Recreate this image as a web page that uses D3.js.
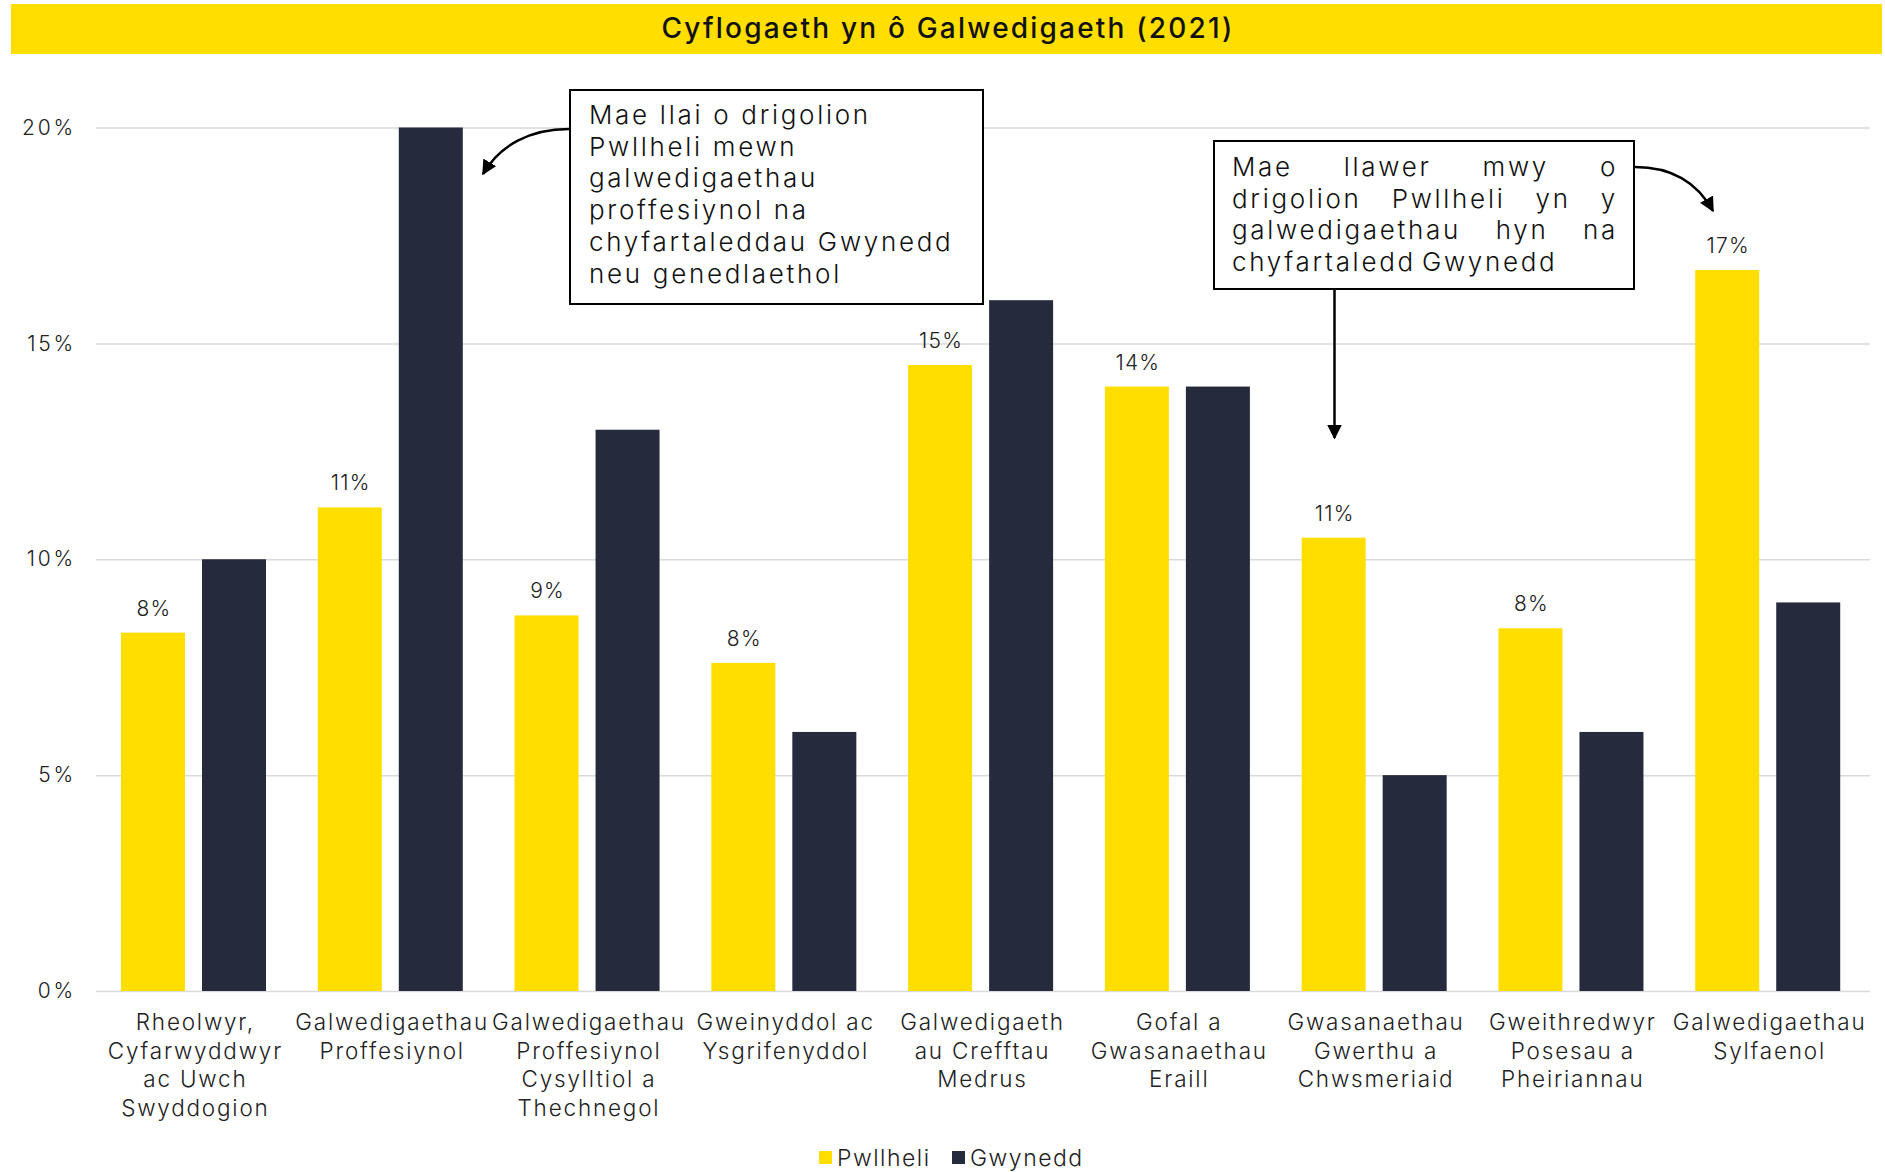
<!DOCTYPE html>
<html>
<head>
<meta charset="utf-8">
<script src="https://cdn.jsdelivr.net/npm/d3@7"></script>
<style>
  html, body { margin: 0; padding: 0; background: #fff; }
  svg { display: block; font-family: Inter, "Noto Sans", sans-serif; }
</style>
</head>
<body>
<svg id="chart" width="1885" height="1172"></svg>
<script>
// ---------------- DATA ----------------
const categories = [
  "Rheolwyr, Cyfarwyddwyr ac Uwch Swyddogion",
  "Galwedigaethau Proffesiynol",
  "Galwedigaethau Proffesiynol Cysylltiol a Thechnegol",
  "Gweinyddol ac Ysgrifenyddol",
  "Galwedigaethau Crefftau Medrus",
  "Gofal a Gwasanaethau Eraill",
  "Gwasanaethau Gwerthu a Chwsmeriaid",
  "Gweithredwyr Posesau a Pheiriannau",
  "Galwedigaethau Sylfaenol"
];
const categoryLines = [
  ["Rheolwyr,", "Cyfarwyddwyr", "ac Uwch", "Swyddogion"],
  ["Galwedigaethau", "Proffesiynol"],
  ["Galwedigaethau", "Proffesiynol", "Cysylltiol a", "Thechnegol"],
  ["Gweinyddol ac", "Ysgrifenyddol"],
  ["Galwedigaeth", "au Crefftau", "Medrus"],
  ["Gofal a", "Gwasanaethau", "Eraill"],
  ["Gwasanaethau", "Gwerthu a", "Chwsmeriaid"],
  ["Gweithredwyr", "Posesau a", "Pheiriannau"],
  ["Galwedigaethau", "Sylfaenol"]
];
const seriesNames = ["Pwllheli", "Gwynedd"];
const pwllheli = [8.3, 11.2, 8.7, 7.6, 14.5, 14.0, 10.5, 8.4, 16.7];
const gwynedd  = [10, 20, 13, 6, 16, 14, 5, 6, 9];
const pwllheliLabels = ["8%", "11%", "9%", "8%", "15%", "14%", "11%", "8%", "17%"];
const yTicks = [0, 5, 10, 15, 20];
const yTickLabels = ["0%", "5%", "10%", "15%", "20%"];
const title = "Cyflogaeth yn ô Galwedigaeth (2021)";
const note1Lines = ["Mae llai o drigolion", "Pwllheli mewn", "galwedigaethau", "proffesiynol na", "chyfartaleddau Gwynedd", "neu genedlaethol"];
const note2Lines = ["Mae llawer mwy o", "drigolion Pwllheli yn y", "galwedigaethau hyn na", "chyfartaledd Gwynedd"];

// ---------------- STYLE ----------------
const colors = { Pwllheli: "#FFDE00", Gwynedd: "#262A3D" };
const svg = d3.select("#chart");

// title bar
svg.append("rect").attr("x", 11).attr("y", 4).attr("width", 1871).attr("height", 50).attr("fill", "#FFDE00");
svg.append("text").attr("x", 948).attr("y", 38).attr("text-anchor", "middle")
  .attr("font-size", 28).attr("font-weight", 500).attr("letter-spacing", 2.2)
  .attr("fill", "#111").text(title);

// scales
const y = d3.scaleLinear().domain([0, 20]).range([991, 127.5]);
const x0 = d3.scaleBand().domain(categories).range([96, 1867]).padding(0);
const x1 = d3.scaleBand().domain(seriesNames).range([25, 170]).paddingInner(0.21).paddingOuter(0);

// gridlines
const grid = svg.append("g").attr("transform", "translate(96,0)")
  .call(d3.axisLeft(y).tickValues(yTicks).tickSize(-1774).tickFormat(""));
grid.select(".domain").remove();
grid.selectAll("line").attr("stroke", "#D9D9D9").attr("stroke-width", 1.5);

// y labels
const yAxis = svg.append("g").attr("transform", "translate(76,0)")
  .call(d3.axisLeft(y).tickValues(yTicks).tickSize(0).tickPadding(0)
    .tickFormat((d, i) => yTickLabels[i]));
yAxis.select(".domain").remove();
yAxis.selectAll("text").attr("font-size", 21).attr("fill", "#222")
  .attr("font-family", "Inter, sans-serif").attr("font-weight", 300).attr("letter-spacing", 2.8);

// bars
const groups = svg.append("g").selectAll("g").data(categories).join("g")
  .attr("transform", d => `translate(${x0(d)},0)`);
groups.append("rect")
  .attr("x", x1("Pwllheli")).attr("width", x1.bandwidth())
  .attr("y", (d, i) => y(pwllheli[i])).attr("height", (d, i) => y(0) - y(pwllheli[i]))
  .attr("fill", colors.Pwllheli);
groups.append("rect")
  .attr("x", x1("Gwynedd")).attr("width", x1.bandwidth())
  .attr("y", (d, i) => y(gwynedd[i])).attr("height", (d, i) => y(0) - y(gwynedd[i]))
  .attr("fill", colors.Gwynedd);
groups.append("text")
  .attr("x", x1("Pwllheli") + x1.bandwidth() / 2 + 1)
  .attr("y", (d, i) => y(pwllheli[i]) - 17)
  .attr("text-anchor", "middle").attr("font-size", 21).attr("font-weight", 300)
  .attr("letter-spacing", 1.2).attr("fill", "#222")
  .text((d, i) => pwllheliLabels[i]);

// category labels
groups.append("text")
  .attr("text-anchor", "middle").attr("font-size", 22.5).attr("font-weight", 300)
  .attr("letter-spacing", 1.8).attr("fill", "#222")
  .each(function (d, i) {
    const t = d3.select(this);
    categoryLines[i].forEach((line, k) => {
      t.append("tspan").attr("x", x0.bandwidth() / 2 + 1).attr("y", 1030 + k * 28.6).text(line);
    });
  });

// legend
const legend = svg.append("g");
[["Pwllheli", 819, 837], ["Gwynedd", 952, 970]].forEach(([name, sx, tx]) => {
  legend.append("rect").attr("x", sx).attr("y", 1151).attr("width", 13).attr("height", 13).attr("fill", colors[name]);
  legend.append("text").attr("x", tx).attr("y", 1166).attr("font-size", 23).attr("font-weight", 300)
    .attr("letter-spacing", 1.5).attr("fill", "#222").text(name);
});

// arrow marker
const defs = svg.append("defs");
defs.append("marker").attr("id", "arrow").attr("viewBox", "0 0 10 10")
  .attr("refX", 9).attr("refY", 5).attr("markerWidth", 6).attr("markerHeight", 6)
  .attr("markerUnits", "strokeWidth").attr("orient", "auto")
  .append("path").attr("d", "M0,0 L10,5 L0,10 z").attr("fill", "#000");

// note 1
svg.append("rect").attr("x", 570).attr("y", 90).attr("width", 413).attr("height", 214)
  .attr("fill", "#fff").attr("stroke", "#000").attr("stroke-width", 2);
const n1 = svg.append("text").attr("font-size", 26).attr("font-weight", 300)
  .attr("letter-spacing", 2.7).attr("fill", "#111");
note1Lines.forEach((l, k) => n1.append("tspan").attr("x", 589).attr("y", 124 + k * 31.7).text(l));
svg.append("path").attr("d", "M569,129 C530,129 500,145 483,174")
  .attr("fill", "none").attr("stroke", "#000").attr("stroke-width", 2.5).attr("marker-end", "url(#arrow)");

// note 2 (justified)
svg.append("rect").attr("x", 1214).attr("y", 141).attr("width", 420).attr("height", 148)
  .attr("fill", "#fff").attr("stroke", "#000").attr("stroke-width", 2);
const n2 = svg.append("g").attr("font-size", 26).attr("font-weight", 300)
  .attr("letter-spacing", 2.7).attr("fill", "#111");
note2Lines.forEach((l, k) => {
  const yy = 176 + k * 31.7;
  const words = l.split(" ");
  const last = k === note2Lines.length - 1;
  const nodes = words.map(w => n2.append("text").attr("y", yy).text(w));
  const widths = nodes.map(n => n.node().getComputedTextLength());
  const total = d3.sum(widths);
  const left = 1232, right = 1618;
  const gap = last ? 6 : (right - left - total) / (words.length - 1);
  let cx = left;
  nodes.forEach((n, j) => { n.attr("x", cx); cx += widths[j] + gap; });
});
svg.append("path").attr("d", "M1334.5,289 L1334.5,438")
  .attr("fill", "none").attr("stroke", "#000").attr("stroke-width", 2.5).attr("marker-end", "url(#arrow)");
svg.append("path").attr("d", "M1635,167 C1670,167 1697,182 1713,211")
  .attr("fill", "none").attr("stroke", "#000").attr("stroke-width", 2.5).attr("marker-end", "url(#arrow)");
</script>
</body>
</html>
